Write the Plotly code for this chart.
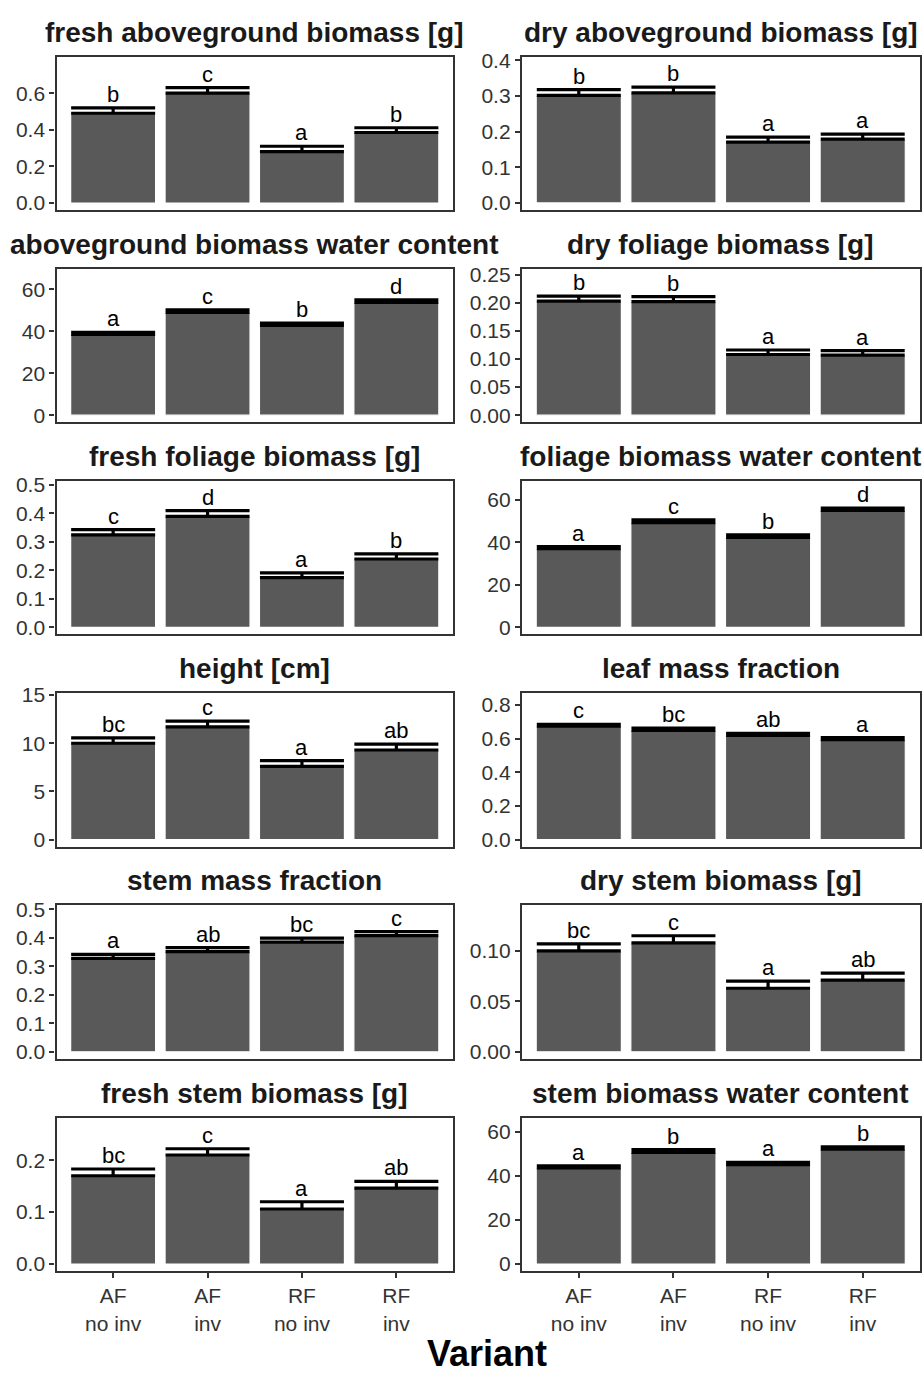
import plotly.graph_objects as go

variants = ["AF<br>no inv", "AF<br>inv", "RF<br>no inv", "RF<br>inv"]

titles = [
    "fresh aboveground biomass [g]", "dry aboveground biomass [g]",
    "aboveground biomass water content", "dry foliage biomass [g]",
    "fresh foliage biomass [g]", "foliage biomass water content",
    "height [cm]", "leaf mass fraction",
    "stem mass fraction", "dry stem biomass [g]",
    "fresh stem biomass [g]", "stem biomass water content",
]

means = [
    [0.49, 0.60, 0.28, 0.385],
    [0.302, 0.309, 0.171, 0.179],
    [38.5, 49.0, 42.8, 53.8],
    [0.203, 0.202, 0.108, 0.107],
    [0.325, 0.390, 0.175, 0.240],
    [37.0, 49.2, 42.3, 55.0],
    [10.0, 11.7, 7.6, 9.3],
    [0.675, 0.650, 0.620, 0.595],
    [0.328, 0.352, 0.385, 0.408],
    [0.100, 0.108, 0.063, 0.071],
    [0.170, 0.210, 0.106, 0.146],
    [43.5, 50.5, 45.0, 52.0],
]

ses = [
    [0.030, 0.030, 0.030, 0.026],
    [0.016, 0.016, 0.014, 0.014],
    [1.0, 1.3, 1.2, 1.2],
    [0.009, 0.009, 0.008, 0.008],
    [0.018, 0.020, 0.016, 0.018],
    [1.0, 1.3, 1.2, 1.0],
    [0.55, 0.6, 0.6, 0.6],
    [0.010, 0.013, 0.012, 0.012],
    [0.014, 0.014, 0.014, 0.014],
    [0.007, 0.007, 0.007, 0.007],
    [0.013, 0.012, 0.014, 0.013],
    [1.0, 1.3, 1.0, 1.0],
]

letters = [
    ["b", "c", "a", "b"],
    ["b", "b", "a", "a"],
    ["a", "c", "b", "d"],
    ["b", "b", "a", "a"],
    ["c", "d", "a", "b"],
    ["a", "c", "b", "d"],
    ["bc", "c", "a", "ab"],
    ["c", "bc", "ab", "a"],
    ["a", "ab", "bc", "c"],
    ["bc", "c", "a", "ab"],
    ["bc", "c", "a", "ab"],
    ["a", "b", "a", "b"],
]

y_ranges = [
    [-0.038, 0.800], [-0.0196, 0.411],
    [-3.33, 69.9], [-0.0124, 0.2606],
    [-0.0245, 0.514], [-3.28, 68.8],
    [-0.724, 15.2], [-0.0415, 0.871],
    [-0.0245, 0.514], [-0.0069, 0.1451],
    [-0.0134, 0.282], [-3.16, 66.3],
]

y_ticks = [
    [0, 0.2, 0.4, 0.6], [0, 0.1, 0.2, 0.3, 0.4],
    [0, 20, 40, 60], [0, 0.05, 0.10, 0.15, 0.20, 0.25],
    [0, 0.1, 0.2, 0.3, 0.4, 0.5], [0, 20, 40, 60],
    [0, 5, 10, 15], [0, 0.2, 0.4, 0.6, 0.8],
    [0, 0.1, 0.2, 0.3, 0.4, 0.5], [0, 0.05, 0.10],
    [0, 0.1, 0.2], [0, 20, 40, 60],
]

tick_fmt = [".1f", ".1f", "d", ".2f", ".1f", "d", "d", ".1f", ".1f", ".2f", ".1f", "d"]

W, H = 924, 1373
FONT = "Liberation Sans, Arial, sans-serif"
col_x = [(56.5, 453), (522, 919.5)]
row_top0, row_pitch, box_h = 47, 214.4, 155

fig = go.Figure()
annotations = []
for i in range(12):
    r, c = divmod(i, 2)
    ax = "" if i == 0 else str(i + 1)
    top = row_top0 + r * row_pitch
    bot = top + box_h
    xd = [col_x[c][0] / W, col_x[c][1] / W]
    yd = [1 - bot / H, 1 - top / H]
    caps = [m + s for m, s in zip(means[i], ses[i])]
    fig.add_trace(go.Bar(
        x=variants, y=means[i], width=0.9,
        marker=dict(color="#595959", line=dict(color="white", width=1.2)),
        error_y=dict(type="data", array=ses[i], arrayminus=[0] * 4, symmetric=False,
                     color="black", thickness=3.2, width=42),
        xaxis="x" + ax, yaxis="y" + ax, showlegend=False, hoverinfo="skip",
    ))
    for v, cp, lt in zip(variants, caps, letters[i]):
        annotations.append(dict(x=v, y=cp, text=lt, showarrow=False, xref="x" + ax, yref="y" + ax,
                                xanchor="center", yanchor="bottom", yshift=-1,
                                font=dict(family=FONT, size=22, color="black")))
    annotations.append(dict(x=(xd[0] + xd[1]) / 2, y=yd[1], xref="paper", yref="paper",
                            text="<b>" + titles[i] + "</b>", showarrow=False,
                            xanchor="center", yanchor="bottom", yshift=7,
                            font=dict(family=FONT, size=28, color="#1a1a1a")))
    bottom_row = (r == 5)
    fig.update_layout(**{
        "xaxis" + ax: dict(domain=xd, anchor="y" + ax, type="category", range=[-0.6, 3.6],
                           showline=True, mirror=True, linecolor="#333333", linewidth=2.4,
                           showgrid=False, zeroline=False, fixedrange=True,
                           ticks="outside" if bottom_row else "", ticklen=5, tickwidth=2, tickcolor="#333333",
                           showticklabels=bottom_row,
                           tickfont=dict(family=FONT, size=21, color="#333333")),
        "yaxis" + ax: dict(domain=yd, anchor="x" + ax, range=y_ranges[i],
                           tickvals=y_ticks[i], ticktext=[format(t if tick_fmt[i] != "d" else int(t), tick_fmt[i]) for t in y_ticks[i]],
                           showline=True, mirror=True, linecolor="#333333", linewidth=2.4,
                           showgrid=False, zeroline=False,
                           ticks="outside", ticklen=5, tickwidth=2, tickcolor="#333333",
                           tickfont=dict(family=FONT, size=21, color="#333333")),
    })

annotations.append(dict(x=487 / W, y=1 - 1357 / H, xref="paper", yref="paper", text="<b>Variant</b>",
                        showarrow=False, xanchor="center", yanchor="middle",
                        font=dict(family=FONT, size=36, color="black")))

fig.update_layout(width=W, height=H, margin=dict(l=0, r=0, t=0, b=0),
                  paper_bgcolor="white", plot_bgcolor="white", annotations=annotations,
                  bargap=0.1)
fig.write_html("out.html", config={"displayModeBar": False},
               post_script="document.body.style.margin='0';document.body.style.overflow='hidden';")
